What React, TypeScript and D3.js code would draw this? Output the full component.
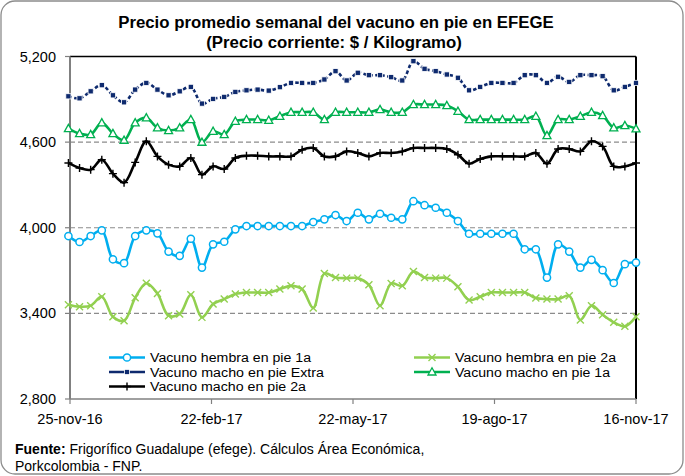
import React from 'react';
import * as d3 from 'd3';

// ---- data ----
const firstWeek = new Date(2016, 10, 24);
const weekDates: Date[] = d3.range(52).map((i) => d3.timeDay.offset(firstWeek, 7 * i));

const hembra1a = [
  3942, 3900, 3942, 3982, 3779, 3752, 3942, 3982, 3961, 3833, 3803, 3923, 3721, 3884, 3902, 3989, 4012, 4012,
  4012, 4012, 4012, 4012, 4040, 4059, 4089, 4047, 4105, 4059, 4098, 4070, 4059, 4186, 4158, 4140,
  4105, 4047, 3958, 3958, 3958, 3958, 3958, 3849, 3849, 3651, 3884, 3833, 3721, 3775, 3703, 3613, 3745, 3756,
];
const hembra2a = [
  3461, 3447, 3454, 3517, 3377, 3349, 3509, 3611, 3539, 3384, 3396, 3530, 3372, 3465, 3500, 3535, 3546, 3546,
  3546, 3570, 3593, 3570, 3438, 3679, 3651, 3647, 3647, 3600, 3454, 3609, 3593, 3693, 3651, 3647,
  3647, 3586, 3493, 3516, 3546, 3546, 3546, 3546, 3507, 3500, 3500, 3523, 3354, 3454, 3391, 3337, 3309, 3377,
];
const machoExtra = [
  4921, 4907, 4956, 4999, 4928, 4879, 4968, 5015, 4968, 4928, 4956, 4987, 4870, 4903, 4917, 4952, 4963, 4968,
  4961, 4985, 5015, 5015, 5015, 5039, 5097, 5032, 5086, 5069, 5069, 5055, 5032, 5167, 5114, 5097,
  5074, 5051, 4963, 4987, 5015, 5015, 5015, 5069, 5069, 5015, 5058, 5022, 5069, 5069, 5062, 4963, 4987, 5015,
];
const macho1a = [
  4695, 4660, 4653, 4735, 4660, 4613, 4735, 4770, 4700, 4681, 4700, 4758, 4599, 4676, 4653, 4746, 4758, 4758,
  4753, 4781, 4809, 4809, 4809, 4758, 4809, 4809, 4809, 4809, 4828, 4809, 4809, 4863, 4863, 4863,
  4856, 4816, 4758, 4758, 4758, 4758, 4758, 4758, 4781, 4646, 4758, 4758, 4781, 4809, 4786, 4700, 4716, 4693,
];
const macho2a = [
  4454, 4419, 4407, 4477, 4379, 4316, 4458, 4606, 4500, 4442, 4430, 4489, 4372, 4430, 4412, 4489, 4505, 4505,
  4500, 4500, 4500, 4547, 4559, 4500, 4500, 4535, 4524, 4500, 4524, 4524, 4535, 4559, 4559, 4559,
  4552, 4512, 4449, 4482, 4500, 4500, 4500, 4500, 4524, 4449, 4552, 4552, 4535, 4606, 4570, 4430, 4430, 4454,
];

const xTickDates = ['2016-11-25', '2017-02-22', '2017-05-22', '2017-08-19', '2017-11-16'];
const xTickLabels = ['25-nov-16', '22-feb-17', '22-may-17', '19-ago-17', '16-nov-17'];
const yTicks = [2800, 3400, 4000, 4600, 5200];
const gridValues = [3400, 4000, 4600];

const titleLines = ['Precio promedio semanal del vacuno en pie en EFEGE', '(Precio corriente: $ / Kilogramo)'];

type Marker = 'circle' | 'x' | 'square' | 'triangle' | 'plus';
const seriesList: { name: string; values: number[]; color: string; marker: Marker; dash?: string }[] = [
  { name: 'Vacuno hembra en pie 1a', values: hembra1a, color: '#00AEEF', marker: 'circle' },
  { name: 'Vacuno hembra en pie 2a', values: hembra2a, color: '#92D050', marker: 'x' },
  { name: 'Vacuno macho en pie Extra', values: machoExtra, color: '#0E2A6E', marker: 'square', dash: '3.5 2.5' },
  { name: 'Vacuno macho en pie 1a', values: macho1a, color: '#00B050', marker: 'triangle' },
  { name: 'Vacuno macho en pie 2a', values: macho2a, color: '#000000', marker: 'plus' },
];
const drawOrder = [4, 3, 2, 1, 0];

// ---- layout ----
const W = 685;
const H = 476;
const left = 70;
const right = 636;
const top = 56.5;
const bottom = 399;
const FONT = 'Liberation Sans, Arial, sans-serif';

const parse = d3.timeParse('%Y-%m-%d');
const x = d3
  .scaleTime()
  .domain([parse(xTickDates[0]) as Date, parse(xTickDates[xTickDates.length - 1]) as Date])
  .range([left, right]);
const y = d3.scaleLinear().domain([2800, 5200]).range([bottom, top]);

function MarkerShape({ kind, cx, cy, color }: { kind: Marker; cx: number; cy: number; color: string }) {
  switch (kind) {
    case 'circle':
      return <circle cx={cx} cy={cy} r={3.6} fill="#fff" stroke={color} strokeWidth={1.5} />;
    case 'square':
      return <rect x={cx - 2.6} y={cy - 2.6} width={5.2} height={5.2} fill={color} stroke="#fff" strokeWidth={0.8} />;
    case 'triangle':
      return (
        <path
          d={`M${cx},${cy - 4.2}L${cx + 4},${cy + 3}L${cx - 4},${cy + 3}Z`}
          fill="#fff"
          stroke={color}
          strokeWidth={1.3}
        />
      );
    case 'x':
      return (
        <path
          d={`M${cx - 3.5},${cy - 3.5}L${cx + 3.5},${cy + 3.5}M${cx - 3.5},${cy + 3.5}L${cx + 3.5},${cy - 3.5}`}
          stroke={color}
          strokeWidth={1.4}
          fill="none"
        />
      );
    case 'plus':
      return (
        <path
          d={`M${cx - 4},${cy}L${cx + 4},${cy}M${cx},${cy - 4}L${cx},${cy + 4}`}
          stroke={color}
          strokeWidth={1.4}
          fill="none"
        />
      );
  }
}

export default function App() {
  const lineGen = d3
    .line<number>()
    .x((_, i) => x(weekDates[i]))
    .y((v) => y(v))
    .curve(d3.curveCatmullRom.alpha(0.5));

  const legendItems = [
    { s: seriesList[0], lx: 109, ly: 357.5, w: 161 },
    { s: seriesList[1], lx: 414, ly: 357.5, w: 161 },
    { s: seriesList[2], lx: 109, ly: 372, w: 174 },
    { s: seriesList[3], lx: 414, ly: 372, w: 155 },
    { s: seriesList[4], lx: 109, ly: 386.5, w: 156 },
  ];

  return (
    <svg
      width={W}
      height={H}
      style={{ position: 'absolute', left: 0, top: 0, background: '#fff' }}
      fontFamily={FONT}
    >
      <rect x={1} y={1} width={W - 3} height={H - 3} rx={14} ry={14} fill="#fff" stroke="#8c8c8c" strokeWidth={1.3} />

      {/* title */}
      <text x={336} y={28} textAnchor="middle" fontSize={16.8} fontWeight="bold" fill="#000">
        {titleLines[0]}
      </text>
      <text x={334} y={48} textAnchor="middle" fontSize={16.8} fontWeight="bold" fill="#000">
        {titleLines[1]}
      </text>

      {/* gridlines */}
      {gridValues.map((v) => (
        <line key={v} x1={left} x2={right} y1={y(v)} y2={y(v)} stroke="#8c8c8c" strokeWidth={1.2} strokeDasharray="5 3" />
      ))}

      {/* plot frame */}
      <line x1={left} x2={right} y1={top} y2={top} stroke="#000" strokeWidth={1.5} />
      <line x1={right} x2={right} y1={top} y2={bottom} stroke="#000" strokeWidth={2} />
      <line x1={left} x2={left} y1={top} y2={bottom} stroke="#808080" strokeWidth={2} />
      <line x1={left} x2={right} y1={bottom} y2={bottom} stroke="#808080" strokeWidth={1.5} />

      {/* y ticks */}
      {yTicks.map((v) => (
        <g key={v}>
          <line x1={left - 5} x2={left} y1={y(v)} y2={y(v)} stroke="#808080" strokeWidth={1.2} />
          <text x={56} y={y(v) + 5} textAnchor="end" fontSize={14.5} fill="#000">
            {d3.format(',')(v)}
          </text>
        </g>
      ))}

      {/* x ticks */}
      {xTickDates.map((d, i) => {
        const px = x(parse(d) as Date);
        return (
          <g key={d}>
            <line x1={px} x2={px} y1={bottom} y2={bottom + 5} stroke="#808080" strokeWidth={1.2} />
            <text x={px} y={424} textAnchor="middle" fontSize={14.5} fill="#000">
              {xTickLabels[i]}
            </text>
          </g>
        );
      })}

      {/* series */}
      {drawOrder.map((k) => {
        const s = seriesList[k];
        return (
          <g key={s.name}>
            <path d={lineGen(s.values) || ''} fill="none" stroke={s.color} strokeWidth={2.6} strokeDasharray={s.dash} />
            {s.values.map((v, i) => (
              <MarkerShape key={i} kind={s.marker} cx={x(weekDates[i])} cy={y(v)} color={s.color} />
            ))}
          </g>
        );
      })}

      {/* legend */}
      {legendItems.map(({ s, lx, ly, w }) => (
        <g key={s.name}>
          <line x1={lx} x2={lx + 36} y1={ly} y2={ly} stroke={s.color} strokeWidth={2.6} />
          <MarkerShape kind={s.marker} cx={lx + 18} cy={ly} color={s.color} />
          <text x={lx + 41} y={ly + 4.5} fontSize={12.5} textLength={w} lengthAdjust="spacingAndGlyphs" fill="#000">
            {s.name}
          </text>
        </g>
      ))}

      {/* footer */}
      <text x={15} y={454} fontSize={14} fill="#000">
        <tspan fontWeight="bold">Fuente:</tspan>
        <tspan> Frigorífico Guadalupe (efege). Cálculos Área Económica,</tspan>
      </text>
      <text x={15} y={471} fontSize={14} fill="#000">
        Porkcolombia  - FNP.
      </text>
    </svg>
  );
}
